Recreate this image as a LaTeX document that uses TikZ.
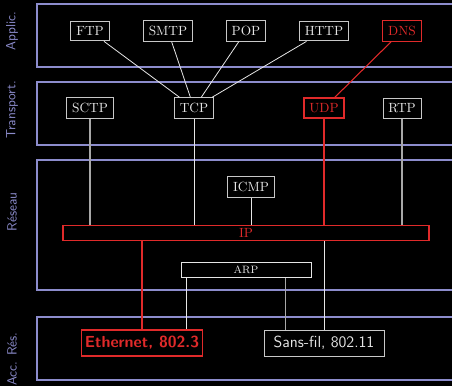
\documentclass[tikz,border=0pt]{standalone}
\usetikzlibrary{positioning}
\definecolor{layerblue}{HTML}{8C8CCC}
\definecolor{protored}{HTML}{E02A2A}
\definecolor{protowhite}{HTML}{E6E6E6}
\definecolor{boxgray}{HTML}{C8C8C8}
\definecolor{linegray}{HTML}{A8A8A8}
\tikzset{
  layer/.style={draw=layerblue, line width=0.8pt},
  layername/.style={text=layerblue, font=\sffamily, rotate=90},
  proto/.style={draw=boxgray, text=protowhite, line width=0.7pt, inner sep=4pt},
  protohot/.style={proto, draw=protored, text=protored, line width=0.9pt},
  link/.style={draw=protowhite, line width=0.6pt},
  linkgray/.style={draw=linegray, line width=0.8pt},
  linkhot/.style={draw=protored, line width=0.8pt}
}
\begin{document}
\begin{tikzpicture}[x=0.75pt, y=-0.75pt]
  % fond et cadre
  \fill[black] (0,0) rectangle (452,386);
  \useasboundingbox (0,0) rectangle (452,386);

  % couches
  \draw[layer] (37,4) rectangle (460,67);
  \draw[layer] (37,82) rectangle (460,145);
  \draw[layer] (37,160) rectangle (460,290);
  \draw[layer] (37,317) rectangle (460,380);
  \node[layername] (lapp) at (12,31) {Applic.};
  \node[layername] (ltrans) at (12,110) {Transport.};
  \node[layername] (lres) at (12,212) {Réseau};
  \node[layername] (lacc) at (12,359) {Acc. Rés.};

  % application
  \node[proto] (ftp) at (90,31) {FTP};
  \node[proto] (smtp) at (168,31) {SMTP};
  \node[proto] (pop) at (246,31) {POP};
  \node[proto] (http) at (324,31) {HTTP};
  \node[protohot] (dns) at (402,31) {DNS};

  % transport
  \node[proto] (sctp) at (90,108) {SCTP};
  \node[proto] (tcp) at (194,108) {TCP};
  \node[protohot] (udp) at (324,108) {UDP};
  \node[proto] (rtp) at (402,108) {RTP};

  % reseau
  \node[proto] (icmp) at (251,187) {ICMP};
  \node[protohot, minimum width=274.5pt, inner sep=2.5pt] (ip) at (246,233) {IP};
  \node[proto, draw=protowhite, minimum width=97.5pt, inner sep=3pt, font=\footnotesize] (arp) at (246,270) {ARP};

  % acces reseau
  \node[protohot, font=\sffamily\bfseries\large, minimum width=90.75pt, minimum height=19.5pt, inner sep=2pt] (eth) at (142,343) {Ethernet, 802.3};
  \node[proto, font=\sffamily\large, minimum width=90pt, minimum height=19.5pt, inner sep=2pt] (wifi) at (324,343) {Sans-fil, 802.11};

  % liaisons
  \foreach \app in {ftp, smtp, pop, http}
    \draw[link] (\app) -- (tcp);
  \draw[linkhot] (dns) -- (udp);
  \draw[linkgray] (sctp) -- (sctp |- ip.north);
  \draw[link] (tcp) -- (tcp |- ip.north);
  \draw[linkhot] (udp) -- (udp |- ip.north);
  \draw[linkgray] (rtp) -- (rtp |- ip.north);
  \draw[link] (icmp) -- (icmp |- ip.north);
  \draw[linkhot] (eth.north |- ip.south) -- (eth.north);
  \draw[link] (wifi.north |- ip.south) -- (wifi.north);
  \draw[link] ([xshift=4.5pt]arp.south west) -- ([xshift=4.5pt]arp.south west |- eth.north);
  \draw[linkgray] ([xshift=-19.5pt]arp.south east) -- ([xshift=-19.5pt]arp.south east |- wifi.north);
\end{tikzpicture}
\end{document}
